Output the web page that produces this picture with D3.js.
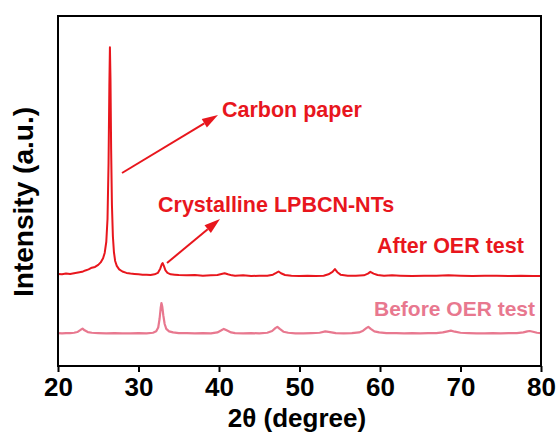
<!DOCTYPE html>
<html>
<head>
<meta charset="utf-8">
<script src="https://cdn.jsdelivr.net/npm/d3@7"></script>
<style>
  html, body { margin: 0; padding: 0; background: #fff; }
  svg { display: block; }
  text { font-family: "Liberation Sans", Arial, sans-serif; font-weight: bold; }
</style>
</head>
<body>
<svg id="chart" width="558" height="434"></svg>
<script>
// ---- data (2θ in degrees, intensity in arbitrary units) ----
const xTicks = [20, 30, 40, 50, 60, 70, 80];
const seriesNames = ["After OER test", "Before OER test"];

const afterOER = [
  [20,26.3],[20.5,26.2],[21,26.4],[21.5,26.3],[22,26.5],[22.5,26.7],[23,26.9],[23.4,27.3],[23.8,27.6],
  [24.2,28.1],[24.6,28.3],[25,28.9],[25.3,29.6],[25.6,30.8],[25.8,32.3],[26.0,35.5],[26.15,42],
  [26.28,58],[26.38,80],[26.45,91.1],[26.52,82],[26.6,62],[26.7,46],[26.82,37],[26.95,32.5],
  [27.1,30.0],[27.3,28.6],[27.6,27.6],[28,27.0],[28.5,26.6],[29,26.4],[29.5,26.3],[30,26.2],
  [30.5,26.1],[31,26.1],[31.5,26.0],[32,26.2],[32.4,26.6],[32.7,27.8],[32.9,29.1],[33.0,29.4],
  [33.15,28.6],[33.35,27.3],[33.6,26.6],[34,26.2],[34.5,26.1],[35,26.0],[36,25.9],[37,26.0],
  [38,25.8],[39,25.9],[39.8,26.0],[40.3,26.3],[40.7,26.5],[41.1,26.2],[41.6,25.9],[42,25.8],
  [43,25.9],[44,25.7],[45,25.8],[46,25.8],[46.7,26.1],[47.1,26.6],[47.4,27.0],[47.7,26.5],
  [48.2,26.0],[49,25.8],[50,25.7],[51,25.8],[52,25.7],[53,25.8],[53.6,26.2],[54.1,26.9],
  [54.4,27.7],[54.7,26.8],[55.1,26.1],[56,25.8],[57,25.8],[58,25.9],[58.5,26.4],[58.8,26.9],
  [59.2,26.4],[59.7,26.0],[60.5,25.8],[61.5,25.9],[62.5,25.8],[64,25.7],[65.5,25.8],[67,25.8],
  [68.5,25.9],[70,25.8],[71.5,25.7],[73,25.8],[74.5,25.8],[76,25.7],[77.5,25.8],[79,25.7],[80,25.7]
];

const beforeOER = [
  [20,9.4],[20.5,9.3],[21,9.4],[21.5,9.4],[22,9.5],[22.4,9.7],[22.8,10.3],[23.05,10.7],[23.3,10.2],
  [23.7,9.7],[24.2,9.5],[25,9.4],[26,9.3],[27,9.4],[28,9.3],[29,9.3],[30,9.4],[31,9.3],[31.8,9.5],
  [32.2,9.9],[32.45,11.0],[32.62,13.5],[32.75,16.5],[32.85,18.0],[32.95,17.0],[33.08,14.5],
  [33.25,12.0],[33.45,10.6],[33.8,9.9],[34.3,9.6],[35,9.4],[36,9.4],[37,9.3],[38,9.4],[39,9.3],
  [39.8,9.6],[40.3,10.2],[40.6,10.6],[40.95,10.2],[41.5,9.6],[42,9.4],[43,9.3],[44,9.4],[45,9.3],
  [46,9.5],[46.6,10.0],[47.0,10.8],[47.25,11.2],[47.55,10.6],[48,9.8],[48.6,9.5],[49.5,9.3],
  [50.5,9.3],[51.5,9.4],[52.5,9.5],[53.2,9.9],[53.8,9.7],[54.5,9.4],[55.5,9.3],[56.5,9.4],
  [57.4,9.6],[57.9,10.1],[58.3,10.8],[58.55,11.2],[58.85,10.6],[59.3,9.9],[59.9,9.6],[60.8,9.4],
  [62,9.4],[63,9.3],[64,9.4],[65,9.3],[66,9.4],[67,9.4],[67.8,9.6],[68.4,9.9],[68.8,10.1],
  [69.3,9.8],[70,9.5],[71,9.4],[72,9.3],[73,9.3],[74,9.4],[75,9.3],[76,9.4],[77,9.4],[77.8,9.6],
  [78.3,9.9],[78.6,10.0],[79.0,9.8],[79.5,9.5],[80,9.4]
];

// ---- layout ----
const RED = "#e8161d", PINK = "#e8788f";
const svg = d3.select("#chart");
const mLeft = 58, mRight = 541, mTop = 16, mBottom = 366;

const x = d3.scaleLinear().domain([20, 80]).range([mLeft, mRight]);
const y = d3.scaleLinear().domain([0, 100]).range([mBottom, mTop]);

const line = d3.line().x(d => x(d[0])).y(d => y(d[1]));

// traces
svg.append("path").datum(beforeOER).attr("d", line)
  .attr("fill", "none").attr("stroke", PINK).attr("stroke-width", 2.2).attr("stroke-linejoin", "round");
svg.append("path").datum(afterOER).attr("d", line)
  .attr("fill", "none").attr("stroke", RED).attr("stroke-width", 2).attr("stroke-linejoin", "round");

// frame
svg.append("rect").attr("x", mLeft).attr("y", mTop)
  .attr("width", mRight - mLeft).attr("height", mBottom - mTop)
  .attr("fill", "none").attr("stroke", "#000").attr("stroke-width", 2);

// bottom axis
const xAxis = d3.axisBottom(x).tickValues(xTicks).tickSize(6).tickPadding(6).tickFormat(d3.format("d"));
const gx = svg.append("g").attr("transform", `translate(0,${mBottom})`).call(xAxis);
gx.select(".domain").remove();
gx.selectAll(".tick line").attr("stroke", "#000").attr("stroke-width", 2);
gx.selectAll(".tick text").attr("fill", "#000").style("font-size", "26px")
  .style("font-family", "'Liberation Sans', Arial, sans-serif").style("font-weight", "bold");

// axis titles
svg.append("text").attr("x", 297).attr("y", 427).attr("text-anchor", "middle")
  .style("font-size", "26px").attr("fill", "#000").text("2θ (degree)");
svg.append("text").attr("transform", "translate(33,202) rotate(-90)").attr("text-anchor", "middle")
  .style("font-size", "27px").attr("fill", "#000")
  .attr("textLength", 190).attr("lengthAdjust", "spacingAndGlyphs")
  .text("Intensity (a.u.)");

// series labels
svg.append("text").attr("x", 377).attr("y", 253).style("font-size", "21.5px").attr("fill", RED).text(seriesNames[0]);
svg.append("text").attr("x", 374).attr("y", 316).style("font-size", "21px").attr("fill", PINK).text(seriesNames[1]);

// annotations
svg.append("text").attr("x", 222).attr("y", 117).style("font-size", "21.5px").attr("fill", RED).text("Carbon paper");
svg.append("text").attr("x", 158).attr("y", 212).style("font-size", "21.5px").attr("fill", RED).text("Crystalline LPBCN-NTs");

function arrow(x1, y1, x2, y2) {
  const ang = Math.atan2(y2 - y1, x2 - x1);
  const L = 16, W = 5;
  const bx = x2 - L * Math.cos(ang), by = y2 - L * Math.sin(ang);
  svg.append("line").attr("x1", x1).attr("y1", y1).attr("x2", bx).attr("y2", by)
    .attr("stroke", RED).attr("stroke-width", 2);
  const px = -Math.sin(ang) * W, py = Math.cos(ang) * W;
  svg.append("path")
    .attr("d", `M${x2},${y2}L${bx + px},${by + py}L${bx - px},${by - py}Z`)
    .attr("fill", RED);
}
arrow(122, 173, 218, 115);
arrow(167, 263, 220, 219);
</script>
</body>
</html>
